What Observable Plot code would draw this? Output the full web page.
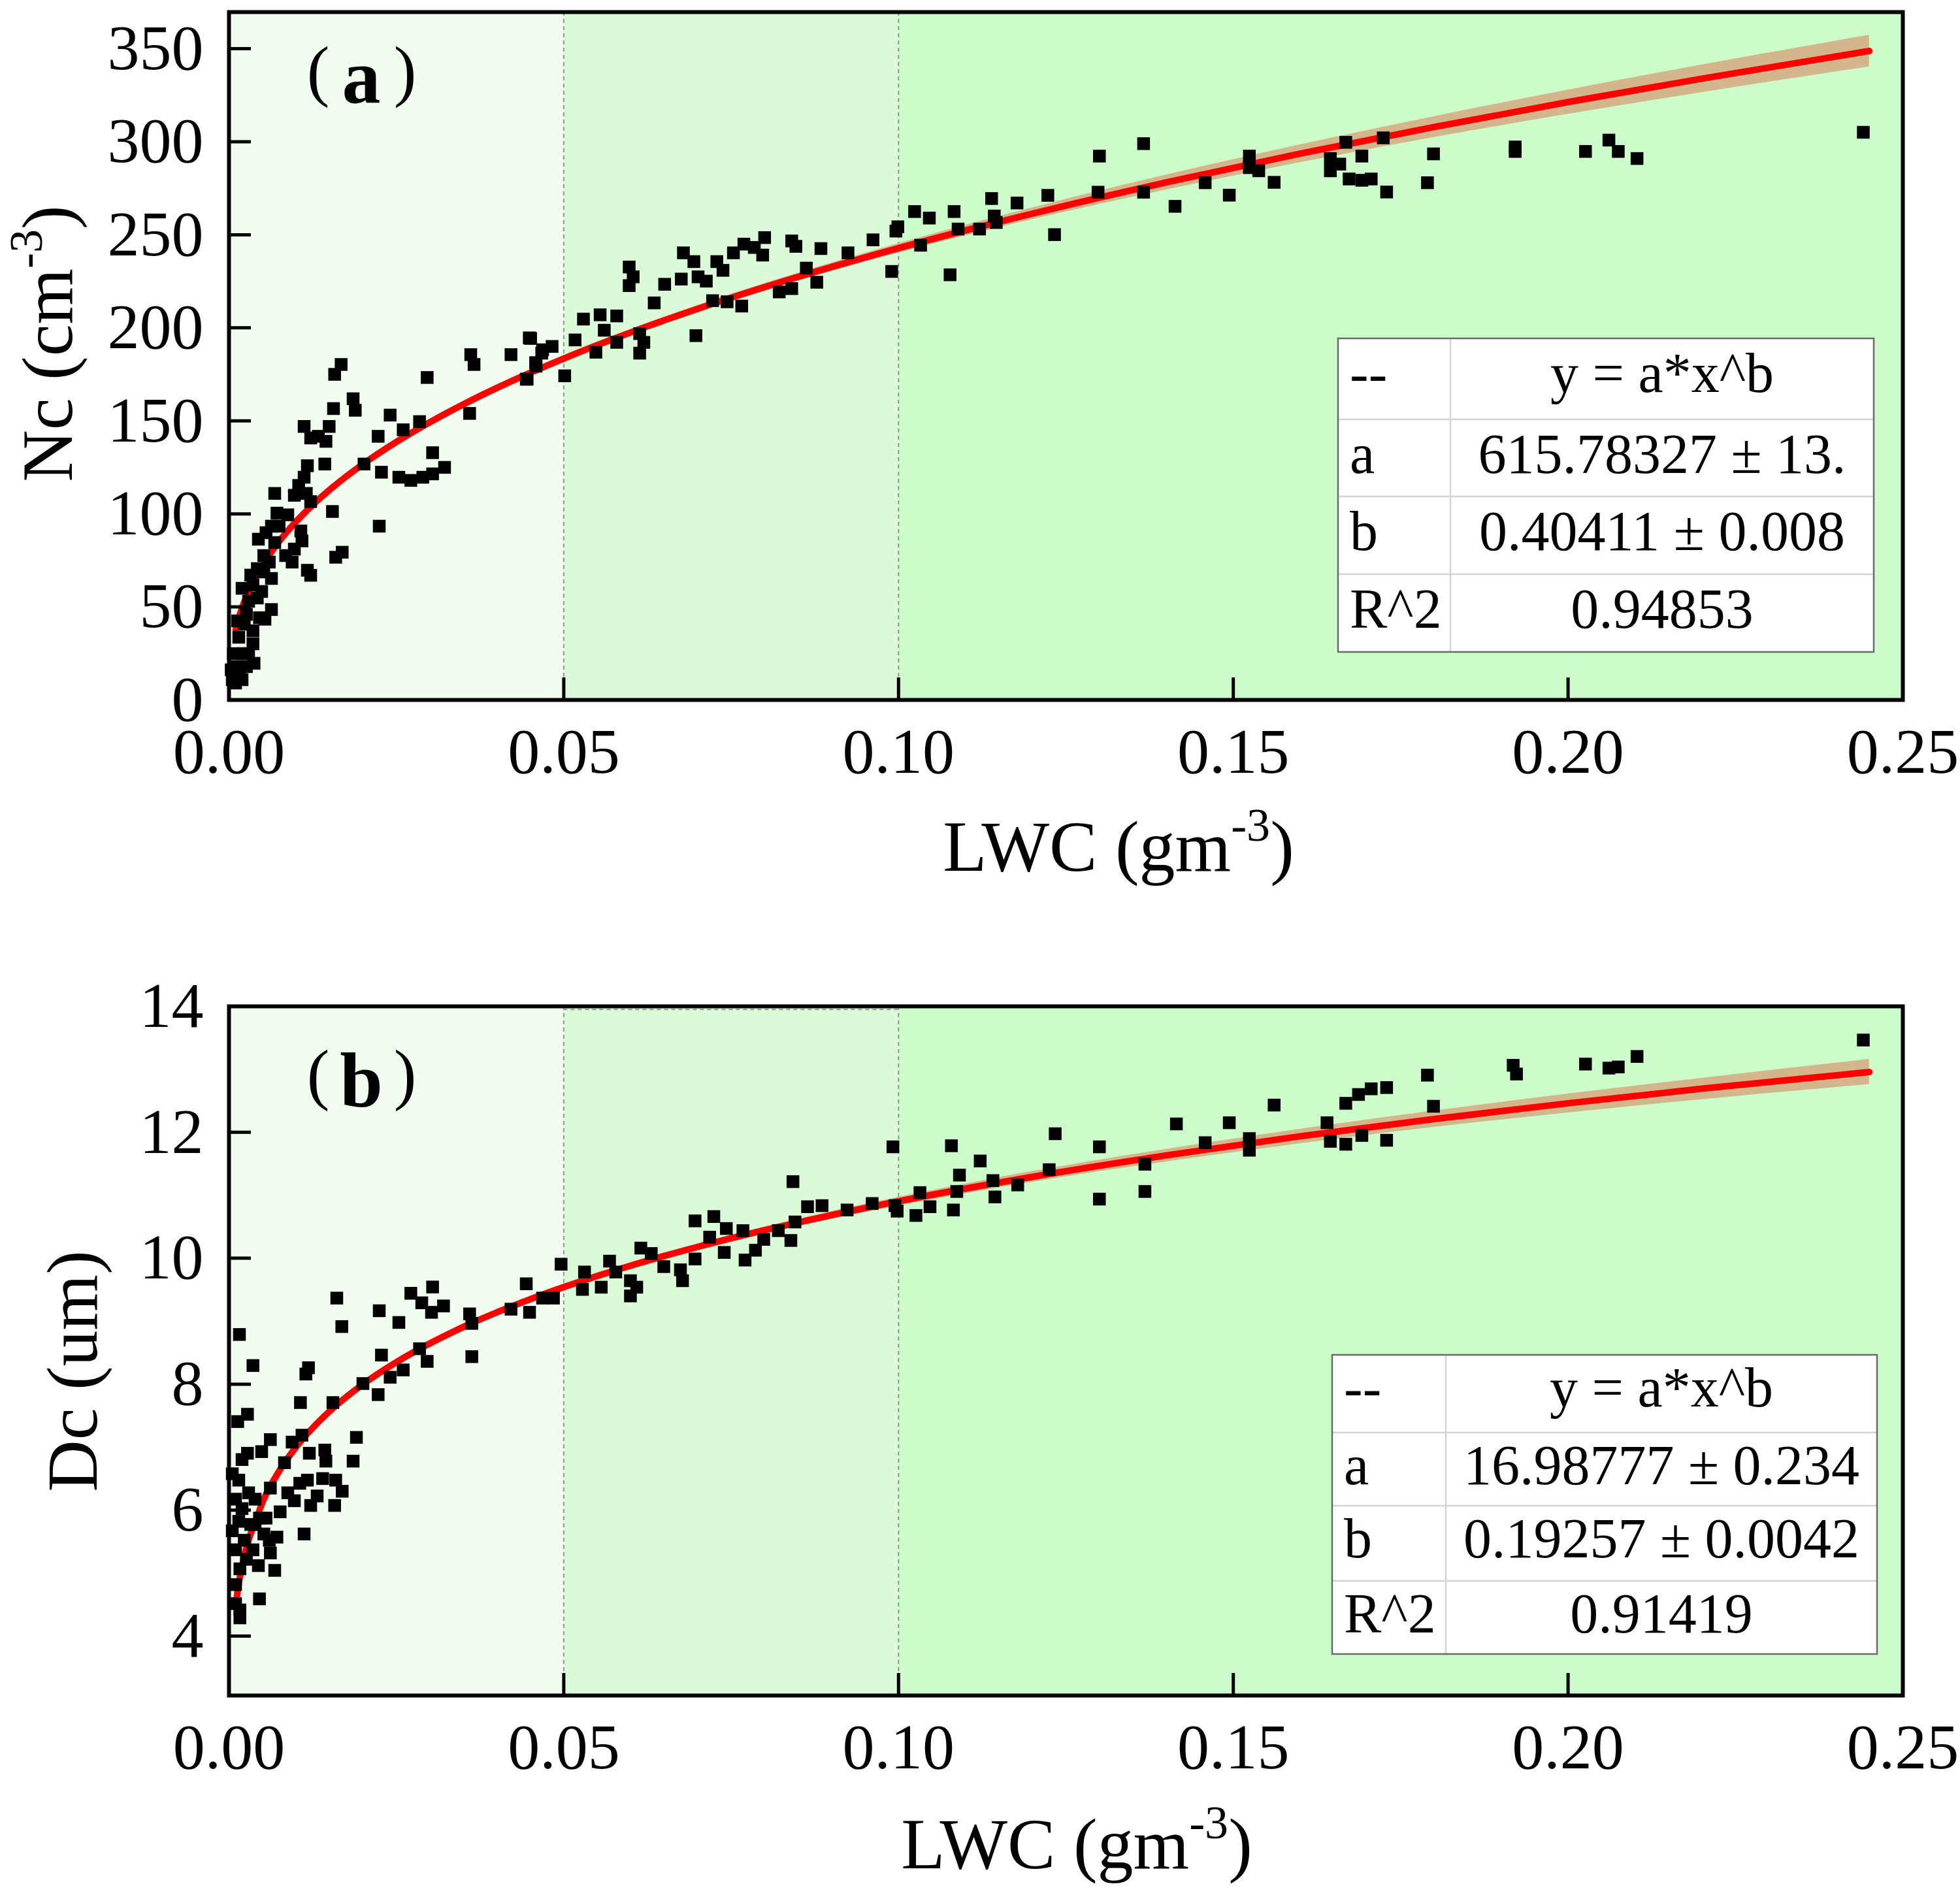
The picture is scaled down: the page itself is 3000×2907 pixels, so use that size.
<!DOCTYPE html>
<html>
<head>
<meta charset="utf-8">
<script src="https://cdn.jsdelivr.net/npm/d3@7"></script>
<script src="https://cdn.jsdelivr.net/npm/@observablehq/plot@0.6"></script>
<style>
html, body { margin: 0; padding: 0; background: #ffffff; }
#page { position: relative; width: 3000px; height: 2907px; overflow: hidden; background: #ffffff; }
#page > svg { position: absolute; left: 0; }
</style>
</head>
<body>
<div id="page"></div>
<script>
// ---------- data ----------
const xTicks = [0, 0.05, 0.10, 0.15, 0.20, 0.25];
const ncTicks = [0, 50, 100, 150, 200, 250, 300, 350];
const dcTicks = [4, 6, 8, 10, 12, 14];
const zoneStart = [0, 0.05, 0.10];
const zoneEnd = [0.05, 0.10, 0.25];

// panel (a): LWC vs Nc
const ncLWC = [0.01675,0.01578,0.01561,0.01854,0.01886,0.01122,0.0122,0.01334,0.01496,0.01448,0.01431,0.01171,0.01122,0.01041,0.01155,0.0122,0.00976,0.00683,0.00716,0.00878,0.00634,0.00748,0.00439,0.01073,0.0109,0.00976,0.00846,0.00943,0.01171,0.0122,0.01545,0.01691,0.01594,0.02244,0.02228,0.02407,0.02602,0.02846,0.0296,0.02017,0.02277,0.02537,0.02716,0.02895,0.03041,0.03041,0.0322,0.03611,0.0366,0.03594,0.04212,0.04505,0.0444,0.04586,0.04684,0.00602,0.0052,0.00634,0.00423,0.00358,0.00488,0.00634,0.00537,0.00358,0.0026,0.00358,0.00374,0.00211,0.00163,0.00098,0.00098,0.00146,0.00293,0.00228,0.00065,0.00049,0.0052,0.00423,0.0026,0.00683,0.00553,0.00325,0.00195,0.0013,0.00455,0.00293,0.00033,0.00195,
0.04485,0.04671,0.04826,0.04453,0.05014,0.0458,0.05169,0.05294,0.05543,0.05791,0.05605,0.0548,0.05791,0.06134,0.06196,0.06134,0.06974,0.05977,0.05977,0.06037,0.06351,0.06507,0.06787,0.06755,0.06943,0.07006,0.07129,0.07286,0.07378,0.07534,0.0769,0.07846,0.08,0.07971,0.07223,0.0744,0.07658,0.08218,0.08405,0.08405,0.08467,0.08623,0.08779,0.08841,0.09245,0.09619,0.09961,0.0999,0.09898,0.1024,0.1046,0.1033,0.1083,0.1089,0.1077,0.1121,0.1139,0.1143,0.1146,0.1177,0.1223,0.1233,0.1298,0.1366,0.1413,
0.1300,0.1366,0.1458,0.1494,0.1524,0.1524,0.1538,0.1561,0.1645,0.1645,0.1659,0.1668,0.1673,0.1692,0.1692,0.1706,0.1724,0.1729,0.1790,0.1799,0.1921,0.1921,0.2026,0.2061,0.2075,0.2103,0.2441];
const ncValues = [180.3,175.0,156.6,161.9,155.7,147.0,140.8,141.7,147.0,139.0,126.8,125.9,119.7,115.3,111.0,106.6,110.0,111.0,100.4,99.5,93.4,93.4,86.4,90.8,85.5,81.1,77.6,74.1,69.7,67.0,101.3,79.4,76.7,93.4,141.7,153.1,145.2,149.6,173.3,126.8,122.4,119.7,118.0,119.7,121.5,132.9,125.0,185.6,180.3,154.0,185.6,194.3,172.4,179.4,188.2,74.1,68.8,65.3,70.6,61.8,58.3,48.6,43.4,37.2,46.0,30.2,19.7,24.9,12.6,9.1,17.9,33.7,53.0,40.7,24.9,10.9,77.6,54.8,17.9,84.6,89.9,67.1,60.0,42.5,44.2,24.9,16.2,10.9,
194.6,186.4,190.0,172.4,174.2,181.3,193.5,204.7,207.0,206.4,198.7,186.9,192.2,196.9,192.2,186.4,195.8,232.7,222.7,227.4,213.4,223.4,240.3,226.2,235.6,227.4,225.1,235.6,230.9,240.3,245.0,243.2,248.5,239.1,214.6,214.0,211.7,219.3,221.1,246.7,243.8,232.1,224.5,242.6,240.3,247.3,252.0,254.3,230.3,262.5,259.0,244.4,262.5,253.1,228.5,253.1,269.5,260.1,256.6,267.1,271.2,250.1,272.9,272.9,265.3,
292.3,299.0,278.0,271.3,292.3,286.1,284.4,278.2,291.0,284.4,288.0,299.7,280.0,292.3,279.3,280.0,302.1,273.0,278.0,293.5,297.2,294.8,294.8,300.9,294.8,291.0,305.1];

// panel (b): LWC vs Dc
const dcLWC = [0.0161,0.01685,0.00156,0.00358,0.01187,0.01148,0.01067,0.01552,0.00276,0.0013,0.00618,0.00943,0.0109,0.00488,0.00276,0.00195,0.00829,0.012,0.01431,0.01447,0.01903,0.01854,0.00146,0.00618,0.00878,0.01057,0.01171,0.01399,0.01594,0.01691,0.01317,0.0122,0.00976,0.01578,0.00764,0.00716,0.00618,0.00439,0.00683,0.01122,0.00455,0.00163,0.00163,0.00098,0.00098,0.00195,0.00293,0.0039,0.00455,0.00325,0.00521,0.00228,0.00098,0.00163,0.00098,0.00358,0.00553,0.00146,0.00049,0.0026,0.00049,0.00602,0.0039,
0.02244,0.02537,0.02716,0.03041,0.02879,0.03025,0.03204,0.02277,0.02407,0.02602,0.02846,0.0296,0.02228,0.02,0.03594,0.03627,0.03627,0.04212,0.0444,0.04489,0.04684,0.04846,0.0496,
0.05279,0.0531,0.0556,0.05684,0.05777,0.05996,0.0609,0.05996,0.06151,0.06307,0.06494,0.06743,0.06774,0.06961,0.06961,0.07241,0.07179,0.07397,0.07428,0.07676,0.07708,0.07863,0.07987,0.08205,0.08392,0.08454,0.08423,0.08641,0.08858,0.09232,0.09606,0.09916,0.09947,0.0998,0.1026,0.1032,0.1047,0.1079,0.1082,0.1087,0.1091,0.1122,0.1141,0.1144,0.1178,0.1225,0.1234,0.13,0.13,0.1368,0.1368,0.1415,
0.1458,0.1494,0.1524,0.1524,0.1561,0.164,0.1645,0.1668,0.1668,0.1687,0.1692,0.1706,0.1729,0.1729,0.179,0.1799,0.1918,0.1923,0.2026,0.2061,0.2075,0.2103,0.2441];
const dcValues = [9.367,8.915,8.789,8.296,8.261,8.161,7.708,7.708,7.522,7.406,7.12,7.08,7.19,6.929,6.903,6.803,6.753,6.903,6.954,6.778,7.155,6.778,6.476,6.35,6.275,6.426,6.476,6.501,6.476,6.3,6.225,6.074,6.149,6.074,5.973,5.571,5.32,5.119,5.043,5.621,4.591,4.415,4.289,4.515,6.174,6.024,6.275,6.174,5.873,5.772,5.621,5.521,5.37,5.068,4.817,5.37,5.873,5.822,5.672,5.219,6.577,5.521,5.772,
9.166,8.98,9.443,9.543,9.292,9.141,9.242,8.462,8.11,8.226,8.563,8.362,7.834,8.01,9.116,8.965,8.437,9.191,9.594,9.141,9.367,9.367,9.905,
9.505,9.781,9.54,9.954,9.781,9.643,9.54,9.401,10.161,10.075,9.867,9.816,9.643,9.988,10.593,10.662,10.334,10.092,10.472,10.438,9.971,10.127,10.299,10.438,10.282,10.576,11.216,10.818,10.835,10.766,10.869,11.769,10.835,10.748,10.679,11.042,10.818,11.786,10.766,11.06,11.32,11.544,11.233,10.973,11.164,11.406,11.977,11.769,10.939,11.493,11.06,12.133,
11.835,12.152,11.715,11.9,12.432,12.152,11.856,12.46,11.81,12.6,11.95,12.69,12.71,11.873,12.907,12.413,13.064,12.925,13.083,13.019,13.037,13.204,13.465];

// fitted curves y = a*x^b, with their confidence bands
const fitX  = [0.001,0.0015,0.002,0.003,0.004,0.005,0.0075,0.01,0.0125,0.015,0.02,0.025,0.03,0.035,0.04,0.045,0.05,0.06,0.07,0.08,0.10,0.12,0.14,0.16,0.18,0.20,0.22,0.245];
const ncFit = [37.75,44.48,49.97,58.89,66.12,72.38,85.27,95.77,104.80,112.82,126.73,138.68,149.27,158.89,167.69,175.85,183.51,197.55,210.25,221.90,242.83,261.39,278.20,293.63,307.94,321.34,333.95,348.80];
const ncFitLo = [35.75,42.48,47.97,56.89,64.12,70.38,83.77,94.27,103.3,111.32,125.23,137.18,147.77,157.39,166.19,174.35,182.01,196.05,208.45,219.9,240.33,258.19,274.2,288.83,302.34,314.84,326.55,340.3];
const ncFitHi = [39.75,46.48,51.97,60.89,68.12,74.38,86.77,97.27,106.3,114.32,128.23,140.18,150.77,160.39,169.19,177.35,185.01,199.05,212.05,223.9,245.33,264.59,282.2,298.43,313.54,327.84,341.35,357.3];
const dcFit = [4.492,4.857,5.133,5.550,5.832,6.124,6.621,6.999,7.306,7.567,7.998,8.349,8.647,8.908,9.140,9.349,9.541,9.882,10.180,10.445,10.904,11.293,11.633,11.937,12.210,12.461,12.692,12.957];
const dcFitLo = [4.41,4.78,5.06,5.48,5.77,6.07,6.57,6.95,7.26,7.52,7.95,8.30,8.60,8.86,9.09,9.30,9.49,9.83,10.13,10.39,10.83,11.21,11.53,11.82,12.08,12.31,12.52,12.76];
const dcFitHi = [4.57,4.94,5.21,5.62,5.89,6.18,6.67,7.05,7.35,7.61,8.05,8.40,8.69,8.96,9.19,9.40,9.59,9.93,10.23,10.50,10.97,11.38,11.73,12.05,12.34,12.61,12.86,13.16];

// fit tables
const tableNames = ["--", "a", "b", "R^2"];
const ncTable = ["y = a*x^b", "615.78327 \u00B1 13.", "0.40411 \u00B1 0.008", "0.94853"];
const dcTable = ["y = a*x^b", "16.98777 \u00B1 0.234", "0.19257 \u00B1 0.0042", "0.91419"];

// ---------- drawing ----------
const FONT = '"Liberation Serif", "Times New Roman", serif';
const zoneFills = ["#f0fdef", "#dbfbd8", "#ccfcc9"];
const page = document.getElementById("page");

function makePanel(cfg) {
  const W = 3000, mL = 350, mR = 88;
  const innerW = W - mL - mR;
  const innerH = cfg.height - cfg.marginTop - cfg.marginBottom;
  const pts = d3.range(cfg.lwc.length);
  const fi = d3.range(fitX.length);
  const zi = d3.range(zoneStart.length);
  const marks = [];
  zi.forEach(i => marks.push(Plot.rect([i], {x1: () => zoneStart[i], x2: () => zoneEnd[i], fill: zoneFills[i]})));
  marks.push(Plot.ruleX(zoneEnd.slice(0, 2), {stroke: "#8a9a8a", strokeWidth: 2, strokeDasharray: "6,5"}));
  if (cfg.boxTop) {
    marks.push(Plot.ruleY([cfg.boxTop], {x1: zoneStart[1], x2: zoneEnd[1], stroke: "#8a9a8a", strokeWidth: 2, strokeDasharray: "6,5"}));
  }
  marks.push(
    Plot.areaY(fi, {x: i => fitX[i], y1: i => cfg.lo[i], y2: i => cfg.hi[i], fill: "#d6a47e", fillOpacity: 0.8, curve: "monotone-x"}),
    Plot.line(fi, {x: i => fitX[i], y: i => cfg.fit[i], stroke: "#ff0000", strokeWidth: 10, curve: "monotone-x"}),
    Plot.dot(pts, {x: i => cfg.lwc[i], y: i => cfg.vals[i], symbol: "square", r: 11, fill: "#000000", stroke: "none"}),
    Plot.axisX({ticks: xTicks, tickSize: 0, tickPadding: 42, tickFormat: d3.format(".2f"), label: null}),
    Plot.axisY({ticks: cfg.yTicks, tickSize: 0, tickPadding: 39, label: null}),
    Plot.tickX(xTicks.slice(1, -1), {x: d => d, stroke: "#000", strokeWidth: 5, insetTop: innerH - 34}),
    Plot.tickY(cfg.yTicks, {y: d => d, stroke: "#000", strokeWidth: 5, insetRight: innerW - 34}),
    Plot.frame({stroke: "#000", strokeWidth: 6})
  );
  const svg = Plot.plot({
    width: W, height: cfg.height,
    marginLeft: mL, marginRight: mR, marginTop: cfg.marginTop, marginBottom: cfg.marginBottom,
    x: {domain: [0, 0.25]},
    y: {domain: cfg.yDomain},
    style: {fontFamily: FONT, fontSize: "98px", color: "#000", background: "transparent", overflow: "visible"},
    marks
  });
  svg.style.top = cfg.top + "px";
  page.appendChild(svg);
}

makePanel({top: 0, height: 1450, marginTop: 18, marginBottom: 379,
  lwc: ncLWC, vals: ncValues, fit: ncFit, lo: ncFitLo, hi: ncFitHi,
  yDomain: [0, 369.7], yTicks: ncTicks});
makePanel({top: 1450, height: 1457, marginTop: 90, marginBottom: 312,
  lwc: dcLWC, vals: dcValues, fit: dcFit, lo: dcFitLo, hi: dcFitHi,
  yDomain: [3.056, 14], yTicks: dcTicks, boxTop: 13.95});

// ---------- overlay text: axis titles, panel letters, fit tables ----------
const ov = d3.select(page).append("svg")
  .attr("width", 3000).attr("height", 2907)
  .style("position", "absolute").style("top", "0px").style("left", "0px")
  .attr("font-family", FONT).attr("fill", "#000");

function xTitle(cx, baseline) {
  const t = ov.append("text").attr("x", cx).attr("y", baseline).attr("text-anchor", "middle").attr("font-size", 110);
  t.append("tspan").text("LWC (gm");
  t.append("tspan").attr("font-size", 72).attr("dy", -46).text("-3");
  t.append("tspan").attr("dy", 46).text(")");
}
function yTitle(baseX, cy, main, sup, tail) {
  const t = ov.append("text").attr("transform", `translate(${baseX},${cy}) rotate(-90)`)
    .attr("text-anchor", "middle").attr("font-size", 110);
  t.append("tspan").text(main);
  if (sup) {
    t.append("tspan").attr("font-size", 72).attr("dy", -46).text(sup);
    t.append("tspan").attr("dy", 46).text(tail);
  }
}
function panelLetter(letter, baseline) {
  ov.append("text").attr("x", 487).attr("y", baseline - 14).attr("text-anchor", "middle").attr("font-size", 104).text("(");
  ov.append("text").attr("x", 553).attr("y", baseline).attr("text-anchor", "middle").attr("font-size", 118).attr("font-weight", "bold").text(letter);
  ov.append("text").attr("x", 620).attr("y", baseline - 14).attr("text-anchor", "middle").attr("font-size", 104).text(")");
}
function fitTable(x0, x1, xc, rows, cells, baseOff) {
  const g = ov.append("g");
  g.append("rect").attr("x", x0).attr("y", rows[0]).attr("width", x1 - x0).attr("height", rows[4] - rows[0]).attr("fill", "#ffffff");
  for (let r = 1; r < 4; r++) {
    g.append("line").attr("x1", x0).attr("x2", x1).attr("y1", rows[r]).attr("y2", rows[r]).attr("stroke", "#d4d4d4").attr("stroke-width", 2.5);
  }
  g.append("line").attr("x1", xc).attr("x2", xc).attr("y1", rows[0]).attr("y2", rows[4]).attr("stroke", "#d4d4d4").attr("stroke-width", 2.5);
  g.append("rect").attr("x", x0).attr("y", rows[0]).attr("width", x1 - x0).attr("height", rows[4] - rows[0])
    .attr("fill", "none").attr("stroke", "#6a6a6a").attr("stroke-width", 2.5);
  for (let r = 0; r < 4; r++) {
    g.append("text").attr("x", x0 + 18).attr("y", rows[r] + baseOff).attr("font-size", 86).text(tableNames[r]);
    g.append("text").attr("x", (xc + x1) / 2).attr("y", rows[r] + baseOff).attr("font-size", 86).attr("text-anchor", "middle").text(cells[r]);
  }
}

xTitle(1712, 1333);
xTitle(1648, 2860);
yTitle(110, 526, "Nc (cm", "-3", ")");
yTitle(148, 2099, "Dc (um)");
panelLetter("a", 157);
panelLetter("b", 1693);
fitTable(2048, 2868, 2220, [518, 642, 760, 879, 998], ncTable, 82);
fitTable(2039, 2873, 2213, [2074, 2193, 2305, 2420, 2532], dcTable, 79);
</script>
</body>
</html>
